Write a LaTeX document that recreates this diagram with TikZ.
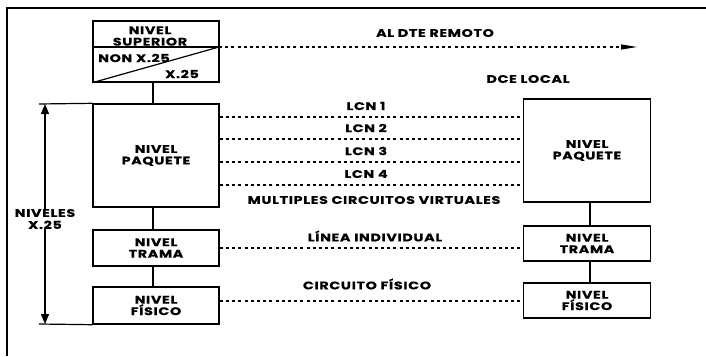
\documentclass[tikz,border=0pt]{standalone}
\usepackage{fontspec}
\setmainfont{Poppins}[FakeStretch=1.3,LetterSpace=6,BoldFeatures={FakeBold=0.6}]
\usetikzlibrary{arrows.meta,calc}
\begin{document}
\begin{tikzpicture}[x=1pt,y=-1pt,
  box/.style={draw,line width=1.4pt,inner sep=0pt,align=center,font=\bfseries\fontsize{11}{11.5}\selectfont},
  lbl/.style={inner sep=0pt,font=\bfseries\fontsize{11}{11.5}\selectfont},
  dline/.style={line width=1.1pt,dash pattern=on 3pt off 3.2pt},
  link/.style={line width=1.5pt}]
\useasboundingbox (0,0) rectangle (706,356);
% frame
\draw[line width=1.2pt] (7,356) -- (7,8) -- (706,8);
% left column
\node[box,minimum width=126pt,minimum height=61pt] (sup) at (156,51.5) {};
\node[box,minimum width=126pt,minimum height=103pt] (paqL) at (156,155.5) {NIVEL\\PAQUETE};
\node[box,minimum width=126pt,minimum height=36pt] (tramaL) at (156,248) {NIVEL\\TRAMA};
\node[box,minimum width=126pt,minimum height=37pt] (fisL) at (156,305.5) {NIVEL\\FÍSICO};
% right column
\node[box,minimum width=127pt,minimum height=103pt] (paqR) at (587,150.5) {NIVEL\\PAQUETE};
\node[box,minimum width=127pt,minimum height=35pt] (tramaR) at (587,243.5) {NIVEL\\TRAMA};
\node[box,minimum width=127pt,minimum height=35pt] (fisR) at (587,300.5) {NIVEL\\FÍSICO};
% inside sup box
\coordinate (divL) at (93,47);
\coordinate (divR) at (219,47);
\draw[line width=1.2pt] (divL) -- (divR);
\draw[line width=1.2pt] (sup.south west) -- (divR);
\node[lbl,align=center] (supt) at (150,36) {NIVEL\\SUPERIOR};
\node[lbl] (non) at (134,58) {NON X.25};
\node[lbl] (x25) at (182,74) {X.25};
% vertical links
\draw[link] ($(sup.south)+(-3,0)$) -- ($(paqL.north)+(-3,0)$);
\draw[link] ($(paqL.south)+(-3,0)$) -- ($(tramaL.north)+(-3,0)$);
\draw[link] ($(tramaL.south)+(-3,0)$) -- ($(fisL.north)+(-3,0)$);
\draw[link] ($(paqR.south)+(3,0)$) -- ($(tramaR.north)+(3,0)$);
\draw[link] ($(tramaR.south)+(3,0)$) -- ($(fisR.north)+(3,0)$);
% top arrow
\coordinate (remote) at (637,47);
\draw[dline,-{Triangle[length=16pt,width=5pt]}] (divR) -- (remote);
\node[lbl] (altext) at (435,33) {AL DTE REMOTO};
\node[lbl] (dce) at (528,79) {DCE LOCAL};
% LCN lines
\foreach \y/\n in {117/1,139/2,162/3,185/4}{
  \coordinate (l\n) at (0,\y);
  \draw[dline] (paqL.east |- l\n) -- (paqR.west |- l\n);
  \node[lbl] (lcn\n) at (366,\y-11) {LCN \n};
}
\node[lbl] (mcv) at (374,200) {MULTIPLES CIRCUITOS VIRTUALES};
\coordinate (lt) at (0,248);
\draw[dline] (tramaL.east |- lt) -- (tramaR.west |- lt);
\node[lbl] (li) at (375,236) {LÍNEA INDIVIDUAL};
\coordinate (lf) at (0,301);
\draw[dline] (fisL.east |- lf) -- (fisR.west |- lf);
\node[lbl] (cf) at (367,284) {CIRCUITO FÍSICO};
% niveles arrow
\coordinate (at) at (39,104);
\coordinate (ab) at (39,324);
\draw[line width=1.2pt] (at) -- (paqL.north west);
\draw[line width=1.2pt] (ab) -- (fisL.south west);
\node[lbl,align=center,font=\bfseries\fontsize{11}{12}\selectfont] (niv) at (45,219) {NIVELES\\X.25};
\coordinate (atop) at (45,104);
\coordinate (abot) at (45,324);
\draw[line width=1.4pt,-{Triangle[length=10pt,width=8pt]}] (niv.north) -- (atop);
\draw[line width=1.4pt,-{Triangle[length=10pt,width=8pt]}] (niv.south) -- (abot);
\end{tikzpicture}
\end{document}
